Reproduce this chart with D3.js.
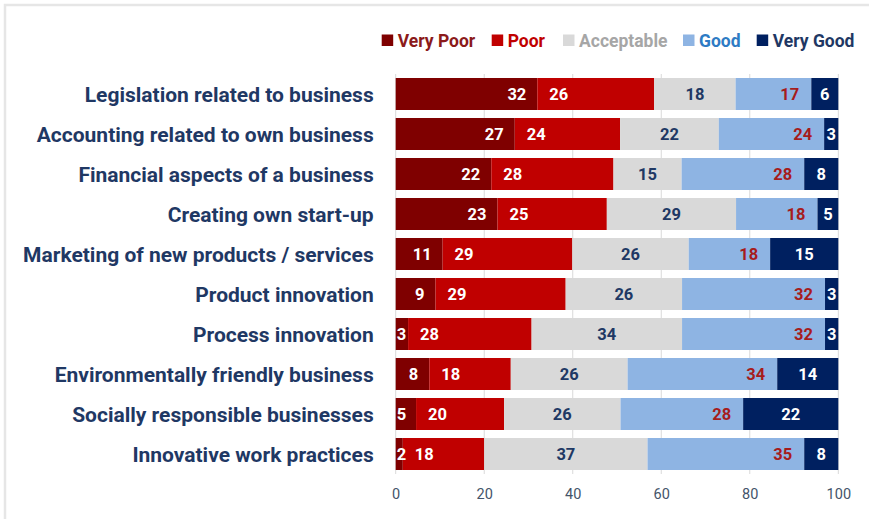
<!DOCTYPE html>
<html>
<head>
<meta charset="utf-8">
<script src="https://cdn.jsdelivr.net/npm/d3@7"></script>
<style>
  html, body { margin: 0; padding: 0; background: #fff; }
  svg { display: block; }
</style>
</head>
<body>
<svg id="chart" width="869" height="519"></svg>
<script>
// Skill areas, top to bottom
const categories = [
  "Legislation related to business",
  "Accounting related to own business",
  "Financial aspects of a business",
  "Creating own start-up",
  "Marketing of new products / services",
  "Product innovation",
  "Process innovation",
  "Environmentally friendly business",
  "Socially responsible businesses",
  "Innovative work practices"
];

// Share of respondents (%) per rating, one array per rating
const veryPoor   = [32.0, 26.9, 21.6, 23.0, 10.6,  9.0,  2.8,  7.6,  4.6,  1.6];
const poor       = [26.4, 23.8, 27.6, 24.7, 29.3, 29.4, 27.9, 18.4, 19.9, 18.4];
const acceptable = [18.4, 22.3, 15.4, 29.2, 26.3, 26.3, 34.0, 26.4, 26.3, 36.9];
const good       = [17.1, 23.8, 27.7, 18.4, 18.4, 32.3, 32.3, 33.8, 27.7, 35.4];
const veryGood   = [ 6.1,  3.2,  7.7,  4.7, 15.4,  3.0,  3.0, 13.8, 21.5,  7.7];

const seriesNames = ["Very Poor", "Poor", "Acceptable", "Good", "Very Good"];
const xTicks = [0, 20, 40, 60, 80, 100];

const seriesValues = [veryPoor, poor, acceptable, good, veryGood];
const fills      = ["#7F0000", "#C00000", "#D9D9D9", "#8EB4E3", "#002060"];
const legendText = ["#8B1A1A", "#C00000", "#A6A6A6", "#2E7BC4", "#1F3864"];
const labelFill  = ["#FFFFFF", "#FFFFFF", "#203864", "#A61C1C", "#FFFFFF"];
// where each series puts its value label inside the segment
const labelPos   = ["end", "base", "center", "end", "center"];

const rows = categories.map((c, i) => {
  const r = { category: c };
  seriesNames.forEach((s, j) => { r[s] = seriesValues[j][i]; });
  return r;
});
const stacked = d3.stack().keys(seriesNames)(rows);

const svg = d3.select("#chart");
const margin = { left: 395.7, right: 30.7, top: 74, bottom: 59 };
const W = 869, H = 519;

// light frame around the chart area
svg.append("path")
  .attr("d", `M5,${H + 2} V5 H${W + 2}`)
  .attr("fill", "none")
  .attr("stroke", "#E6E6E6")
  .attr("stroke-width", 2.5);

const x = d3.scaleLinear().domain([0, 100]).range([margin.left, W - margin.right]);
const y = d3.scaleBand().domain(categories)
  .range([margin.top, margin.top + 400])
  .paddingInner(0.2).paddingOuter(0.1);

// vertical gridlines
svg.append("g")
  .selectAll("line")
  .data(xTicks)
  .join("line")
  .attr("x1", d => x(d)).attr("x2", d => x(d))
  .attr("y1", margin.top).attr("y2", margin.top + 400)
  .attr("stroke", "#D9D9D9")
  .attr("stroke-width", 1);

// stacked bars
const layers = svg.append("g")
  .selectAll("g")
  .data(stacked)
  .join("g")
  .attr("fill", (d, i) => fills[i]);

layers.selectAll("rect")
  .data(d => d)
  .join("rect")
  .attr("x", d => x(d[0]))
  .attr("y", d => y(d.data.category))
  .attr("width", d => x(d[1]) - x(d[0]))
  .attr("height", y.bandwidth());

// value labels
const fmt = d3.format(".0f");
const labelFont = "Roboto, 'DejaVu Sans', sans-serif";
stacked.forEach((layer, si) => {
  const g = svg.append("g");
  layer.forEach(d => {
    const x0 = x(d[0]), x1 = x(d[1]);
    const txt = fmt(d[1] - d[0]);
    const t = g.append("text")
      .attr("y", y(d.data.category) + y.bandwidth() / 2)
      .attr("dy", "0.36em")
      .attr("fill", labelFill[si])
      .attr("font-family", labelFont)
      .attr("font-weight", 700)
      .attr("font-size", 16.5)
      .text(txt);
    const w = t.node().getComputedTextLength();
    const mode = labelPos[si];
    if (mode === "center") {
      t.attr("x", (x0 + x1) / 2).attr("text-anchor", "middle");
    } else if (mode === "base") {
      t.attr("x", x0 + 12).attr("text-anchor", "start");
    } else {
      const pad = si === 0 ? 11 : 12;
      if (x1 - x0 < w + pad + 2) {
        t.attr("x", x0 + 1).attr("text-anchor", "start");
      } else {
        t.attr("x", x1 - pad).attr("text-anchor", "end");
      }
    }
  });
});

// category labels
const catG = svg.append("g");
categories.forEach(c => {
  catG.append("text")
    .attr("x", x(0) - 22)
    .attr("y", y(c) + y.bandwidth() / 2)
    .attr("dy", "0.36em")
    .attr("text-anchor", "end")
    .attr("fill", "#1F3864")
    .attr("font-family", labelFont)
    .attr("font-weight", 700)
    .attr("font-size", 21)
    .text(c);
});

// x axis tick labels
const axis = d3.axisBottom(x).tickValues(xTicks).tickSize(0).tickPadding(0);
const axG = svg.append("g")
  .attr("transform", `translate(0,${margin.top + 400})`)
  .call(axis);
axG.select(".domain").remove();
axG.selectAll("text")
  .attr("y", 20)
  .attr("dy", "0.36em")
  .attr("fill", "#44546A")
  .attr("font-family", labelFont)
  .attr("font-size", 14.5);

// legend
const legendX = [381.7, 491.7, 563, 683, 756.7];
const leg = svg.append("g");
seriesNames.forEach((s, i) => {
  leg.append("rect")
    .attr("x", legendX[i]).attr("y", 34.5)
    .attr("width", 11.5).attr("height", 11.5)
    .attr("fill", fills[i]);
  leg.append("text")
    .attr("x", legendX[i] + 16)
    .attr("y", 40.5)
    .attr("dy", "0.36em")
    .attr("fill", legendText[i])
    .attr("font-family", labelFont)
    .attr("font-weight", 700)
    .attr("font-size", 17.5)
    .text(s);
});
</script>
</body>
</html>
